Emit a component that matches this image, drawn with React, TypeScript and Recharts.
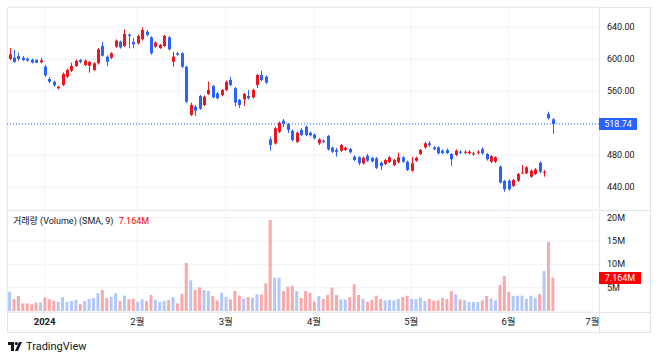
import React from "react";
import {
  Bar,
  CartesianGrid,
  Cell,
  ComposedChart,
  ReferenceLine,
  XAxis,
  YAxis,
} from "recharts";

// daily candles, Dec 2023 - Jun 2024
const openPrices = [
  600.0, 601.6, 603.8, 601.6, 600.4, 599.1, 598.8, 595.9, 590.4, 575.0,
  571.6, 563.4, 567.5, 577.9, 585.4, 591.3, 598.8, 592.5, 591.6, 586.3,
  594.6, 616.3, 602.9, 601.6, 615.4, 621.6, 616.3, 630.4, 621.3, 619.6,
  624.6, 634.1, 627.1, 615.4, 613.8, 616.3, 627.1, 596.6, 607.1, 607.1,
  590.4, 530.0, 540.4, 553.8, 542.5, 556.3, 566.3, 557.1, 555.0, 561.3,
  573.8, 563.4, 548.8, 549.6, 553.8, 552.1, 567.5, 580.0, 577.9, 499.6,
  494.6, 509.1, 522.9, 518.4, 510.4, 496.3, 511.3, 515.4, 507.9, 505.4,
  494.6, 497.9, 503.8, 489.1, 486.3, 485.4, 486.3, 487.5, 477.9, 477.1,
  469.6, 479.1, 476.3, 475.9, 470.4, 468.8, 471.3, 467.5, 470.9, 477.1,
  471.6, 460.4, 472.9, 481.3, 489.6, 494.6, 489.6, 489.6, 485.4, 486.3,
  481.3, 480.0, 484.1, 482.9, 482.1, 480.9, 482.9, 487.5, 481.3, 471.6,
  471.6, 465.4, 447.5, 447.9, 441.3, 447.9, 457.1, 457.1, 452.9, 456.3,
  470.4, 457.9, 531.3, 524.6,
];
const highPrices = [
  613.8, 611.3, 607.9, 603.8, 602.0, 600.5, 599.5, 601.6, 592.5, 577.5,
  573.0, 566.5, 583.0, 588.0, 595.4, 599.5, 600.0, 599.5, 597.5, 596.0,
  613.5, 621.3, 604.5, 608.5, 624.5, 623.0, 637.1, 632.0, 625.9, 630.5,
  639.6, 636.0, 628.5, 622.0, 619.0, 630.0, 628.5, 608.8, 608.5, 608.5,
  591.5, 545.4, 542.5, 555.0, 554.5, 571.6, 567.5, 558.5, 562.5, 573.0,
  577.5, 565.0, 550.0, 557.5, 561.3, 563.0, 581.5, 585.4, 579.5, 502.9,
  515.0, 522.0, 525.0, 520.0, 512.0, 509.5, 513.8, 517.0, 509.5, 507.0,
  501.0, 499.5, 505.0, 490.5, 488.8, 494.0, 490.5, 489.0, 479.5, 478.5,
  478.0, 481.3, 477.5, 477.5, 472.0, 475.0, 478.5, 475.0, 482.9, 478.5,
  473.0, 477.5, 478.0, 487.5, 496.3, 497.5, 491.0, 491.0, 487.0, 488.0,
  482.5, 487.0, 486.0, 486.0, 486.0, 484.0, 486.0, 489.5, 482.5, 480.0,
  478.5, 467.0, 449.0, 449.5, 450.0, 457.5, 467.5, 466.0, 462.0, 463.5,
  472.0, 461.3, 534.1, 526.0,
];
const lowPrices = [
  598.8, 595.4, 597.9, 597.5, 596.5, 594.5, 594.8, 594.6, 577.5, 570.0,
  565.5, 562.0, 566.0, 576.5, 583.8, 590.0, 594.5, 591.0, 582.9, 585.0,
  593.0, 603.0, 591.3, 600.0, 614.0, 613.0, 615.0, 613.4, 613.4, 618.0,
  623.0, 628.5, 605.5, 614.0, 612.5, 615.0, 610.5, 590.4, 604.0, 589.0,
  545.0, 528.8, 528.8, 536.5, 541.0, 555.0, 550.5, 549.5, 553.5, 560.0,
  566.0, 540.4, 538.8, 541.3, 549.5, 550.5, 563.8, 572.5, 569.0, 485.4,
  493.0, 507.5, 515.0, 507.5, 497.0, 495.0, 503.8, 503.5, 503.0, 499.5,
  492.5, 495.0, 485.5, 482.5, 477.9, 484.0, 485.0, 482.0, 472.5, 467.5,
  468.0, 471.5, 470.5, 462.5, 461.3, 467.5, 470.0, 466.0, 469.5, 470.0,
  460.0, 459.0, 471.5, 480.0, 488.0, 490.0, 486.0, 480.5, 481.0, 481.0,
  466.3, 478.5, 481.0, 481.0, 480.5, 479.0, 481.0, 480.5, 473.0, 470.0,
  470.0, 444.6, 434.1, 435.5, 440.0, 446.5, 457.0, 456.0, 451.5, 455.0,
  457.5, 452.9, 524.5, 506.3,
];
const closePrices = [
  605.9, 596.3, 600.0, 598.8, 597.9, 595.4, 595.4, 598.4, 579.6, 571.6,
  567.1, 565.4, 581.3, 586.3, 591.3, 597.9, 596.3, 597.9, 596.3, 594.6,
  612.1, 604.1, 596.6, 607.1, 622.9, 614.6, 631.3, 628.8, 618.4, 628.8,
  636.3, 630.0, 607.1, 620.4, 617.5, 628.8, 612.1, 602.9, 605.4, 590.4,
  546.6, 542.5, 535.4, 537.9, 552.9, 561.3, 552.1, 550.9, 561.3, 571.6,
  567.5, 545.4, 542.5, 556.3, 550.9, 561.3, 580.0, 573.8, 570.4, 492.5,
  513.4, 520.4, 518.8, 511.3, 498.8, 507.9, 505.0, 505.0, 504.6, 500.9,
  499.6, 496.3, 487.1, 484.1, 484.1, 492.5, 489.1, 483.4, 473.8, 469.6,
  476.6, 472.9, 472.1, 464.1, 466.3, 473.8, 477.1, 473.8, 477.1, 471.6,
  461.3, 469.6, 476.6, 486.3, 494.6, 492.5, 487.1, 482.1, 482.5, 482.5,
  474.6, 485.4, 482.9, 484.1, 484.1, 482.1, 484.1, 482.1, 474.6, 478.5,
  477.1, 445.4, 437.1, 437.1, 448.8, 456.3, 457.9, 464.6, 460.4, 462.1,
  459.1, 459.1, 525.9, 518.74,
];
// millions of shares
const volumes = [
  4.14, 2.57, 3.21, 1.64, 1.64, 1.43, 1.79, 1.86, 2.93, 2.5,
  2.21, 1.93, 2.93, 1.93, 2.14, 2.43, 1.5, 2.14, 2.57, 2.79,
  3.79, 4.5, 2.79, 3.07, 3.79, 2.14, 3.29, 2.5, 2.64, 2.0,
  2.5, 2.14, 3.43, 2.36, 2.0, 2.14, 2.36, 3.0, 1.64, 3.64,
  10.29, 6.57, 4.5, 5.07, 4.5, 4.29, 3.21, 2.29, 3.93, 3.0,
  2.5, 4.29, 3.29, 2.64, 2.93, 2.86, 3.57, 3.57, 5.93, 19.5,
  7.14, 7.14, 4.29, 5.21, 5.43, 4.29, 2.79, 4.29, 3.93, 2.0,
  3.21, 2.57, 3.43, 5.0, 3.43, 2.5, 2.5, 3.0, 5.71, 3.43,
  2.64, 2.0, 2.36, 3.29, 2.57, 2.29, 2.36, 2.29, 2.57, 3.0,
  3.29, 2.57, 2.57, 2.93, 2.14, 2.57, 2.21, 2.29, 2.79, 2.57,
  4.29, 3.57, 2.5, 2.29, 1.93, 1.93, 1.93, 2.29, 3.21, 2.64,
  2.29, 5.57, 7.5, 4.07, 3.21, 3.29, 3.29, 2.64, 3.29, 2.79,
  3.64, 8.57, 14.79, 7.164,
];

const monthTicks = [8, 29, 49, 69, 91, 113, 132];
const monthLabels = ["2024", "2월", "3월", "4월", "5월", "6월", "7월"];
const priceTicks = [440, 480, 520, 560, 600, 640];
const volumeTicks = [5, 10, 15, 20];
const lastPrice = 518.74;
const lastVolume = 7.164;

const UP = "#f0141e";
const DOWN = "#2962ff";
const VOL_UP = "#b2c8fb";
const VOL_DOWN = "#f9a9a9";
const GRID = "#f0f3fa";
const BORDER = "#e0e3eb";
const TEXT = "#131722";
const FONT = "Roboto, 'Noto Sans CJK KR', sans-serif";
const FS = 9;

const rows = closePrices.map((close, i) => ({
  i,
  open: openPrices[i],
  high: highPrices[i],
  low: lowPrices[i],
  close,
  range: [lowPrices[i], highPrices[i]],
  volume: volumes[i],
}));

const X_DOMAIN: [number, number] = [-0.52, 133.5];

const Candle = (props: any) => {
  let { x, y, width, height, payload } = props;
  if (height < 0) {
    y += height;
    height = -height;
  }
  const { open, close, high, low } = payload;
  const color = close >= open ? UP : DOWN;
  const k = high === low ? 0 : height / (high - low);
  const yo = y + (high - open) * k;
  const yc = y + (high - close) * k;
  const cx = Math.round(x + width / 2);
  const top = Math.min(yo, yc);
  const h = Math.max(Math.abs(yo - yc), 1);
  return (
    <g>
      <line x1={cx + 0.5} x2={cx + 0.5} y1={y} y2={y + height} stroke={color} strokeWidth={1} />
      <rect x={cx - 1} y={top} width={3} height={h} fill={color} />
    </g>
  );
};

const PriceTick = (props: any) => {
  const { x, y, payload } = props;
  if (payload.value === 520) return null;
  return (
    <text x={x} y={y} dy="0.35em" fontSize={FS} fill={TEXT} fontFamily={FONT} textAnchor="start">
      {payload.value.toFixed(2)}
    </text>
  );
};

const VolumeTick = (props: any) => {
  const { x, y, payload } = props;
  return (
    <text x={x} y={y} dy="0.35em" fontSize={FS} fill={TEXT} fontFamily={FONT} textAnchor="start">
      {payload.value}M
    </text>
  );
};

const MonthTick = (props: any) => {
  const { x, y, payload } = props;
  const idx = monthTicks.indexOf(payload.value);
  const label = monthLabels[idx];
  return (
    <text
      x={x}
      y={y}
      dy="0.71em"
      fontSize={FS + 0.5}
      fill={TEXT}
      fontFamily={FONT}
      fontWeight={idx === 0 ? 700 : 400}
      textAnchor="middle"
    >
      {label}
    </text>
  );
};

const AxisBadge = (text: string, color: string, w: number, h: number) => (props: any) => {
  const { viewBox } = props;
  const x = viewBox.x + viewBox.width;
  const y = viewBox.y;
  return (
    <g>
      <rect x={x} y={Math.round(y - h / 2)} width={w} height={h} fill={color} />
      <text
        x={x + w / 2}
        y={y}
        dy="0.35em"
        fontSize={FS}
        fill="#ffffff"
        fontFamily={FONT}
        textAnchor="middle"
      >
        {text}
      </text>
    </g>
  );
};

const App: React.FC = () => {
  return (
    <div
      style={{
        position: "absolute",
        left: 0,
        top: 0,
        width: 658,
        height: 358,
        background: "#ffffff",
        fontFamily: FONT,
      }}
    >
      {/* panes frame */}
      <div style={{ position: "absolute", left: 7, top: 7, width: 642, height: 324, border: `1px solid ${BORDER}` }} />
      <div style={{ position: "absolute", left: 599, top: 7, width: 1, height: 325, background: BORDER }} />
      <div style={{ position: "absolute", left: 7, top: 210, width: 643, height: 1, background: BORDER }} />
      <div style={{ position: "absolute", left: 7, top: 312, width: 643, height: 1, background: BORDER }} />

      <div style={{ position: "absolute", left: 0, top: 0 }}>
        <ComposedChart width={658} height={210} data={rows} margin={{ top: 7, right: 8, left: 7, bottom: 0 }}>
          <CartesianGrid stroke={GRID} />
          <XAxis
            dataKey="i"
            type="number"
            domain={X_DOMAIN}
            ticks={monthTicks}
            interval={0}
            allowDataOverflow
            hide
          />
          <YAxis
            orientation="right"
            width={51}
            domain={[411.25, 665]}
            ticks={priceTicks}
            interval={0}
            allowDataOverflow
            axisLine={false}
            tickLine={false}
            tickSize={0}
            tickMargin={8}
            tick={<PriceTick />}
          />
          <ReferenceLine
            y={lastPrice}
            stroke={DOWN}
            strokeDasharray="1 2"
            label={AxisBadge(lastPrice.toFixed(2), DOWN, 38, 12)}
          />
          <Bar dataKey="range" shape={<Candle />} barSize={3} isAnimationActive={false} />
        </ComposedChart>
      </div>

      <div style={{ position: "absolute", left: 0, top: 210 }}>
        <ComposedChart width={658} height={122} data={rows} margin={{ top: 0, right: 8, left: 7, bottom: 0 }}>
          <CartesianGrid stroke={GRID} />
          <XAxis
            dataKey="i"
            type="number"
            domain={X_DOMAIN}
            ticks={monthTicks}
            interval={0}
            allowDataOverflow
            height={20}
            axisLine={false}
            tickLine={false}
            tickSize={0}
            tickMargin={6}
            tick={<MonthTick />}
          />
          <YAxis
            orientation="right"
            width={51}
            domain={[-0.21, 21.64]}
            ticks={volumeTicks}
            interval={0}
            allowDataOverflow
            axisLine={false}
            tickLine={false}
            tickSize={0}
            tickMargin={8}
            tick={<VolumeTick />}
          />
          <ReferenceLine
            y={lastVolume}
            stroke="none"
            label={AxisBadge(`${lastVolume.toFixed(3)}M`, "#ff0000", 42, 12)}
          />
          <Bar dataKey="volume" barSize={3} isAnimationActive={false}>
            {rows.map((r) => (
              <Cell key={r.i} fill={r.close >= r.open ? VOL_UP : VOL_DOWN} />
            ))}
          </Bar>
        </ComposedChart>
      </div>

      <div
        style={{
          position: "absolute",
          left: 13,
          top: 216,
          fontSize: FS,
          lineHeight: "11px",
          color: TEXT,
          whiteSpace: "nowrap",
        }}
      >
        거래량 (Volume) (SMA, 9) <span style={{ color: "#ff0000", marginLeft: 3 }}>7.164M</span>
      </div>

      {/* TradingView mark */}
      <div style={{ position: "absolute", left: 8, top: 340, display: "flex", alignItems: "center" }}>
        <svg width={14} height={10} viewBox="0 0 14 10">
          <path d="M0 0h6v9H3V3H0z" fill={TEXT} />
          <circle cx={8.3} cy={1.6} r={1.6} fill={TEXT} />
          <path d="M11 0h3l-4 9H7z" fill={TEXT} />
        </svg>
        <span style={{ marginLeft: 4, fontSize: 11, color: TEXT }}>TradingView</span>
      </div>
    </div>
  );
};

export default App;
